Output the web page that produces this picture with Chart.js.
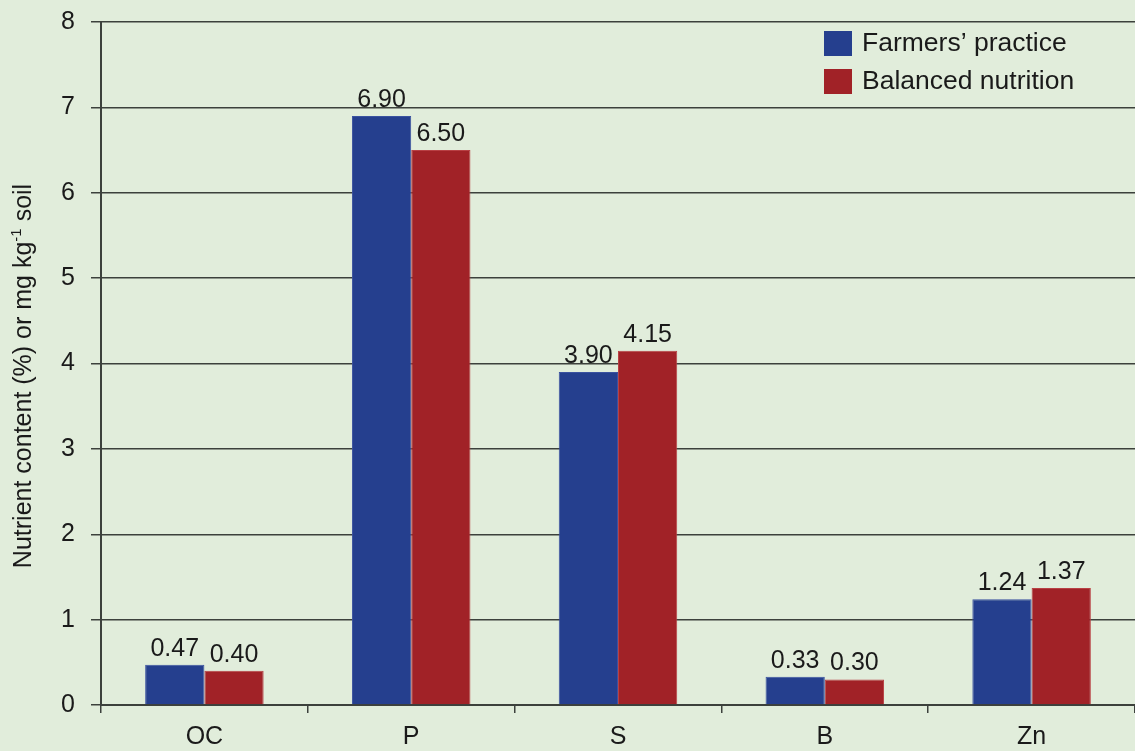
<!DOCTYPE html>
<html>
<head>
<meta charset="utf-8">
<style>
  html, body { margin: 0; padding: 0; background: #e1eddb; }
  #wrap { width: 1135px; height: 751px; position: relative; }
</style>
<script src="https://cdn.jsdelivr.net/npm/chart.js@4.4.1/dist/chart.umd.min.js"></script>
</head>
<body>
<div id="wrap"><canvas id="chart" width="1135" height="751"></canvas></div>
<script>
// Soil nutrient content under two management practices
const nutrients = ['OC', 'P', 'S', 'B', 'Zn'];
const farmersPractice = [0.47, 6.90, 3.90, 0.33, 1.24];
const balancedNutrition = [0.40, 6.50, 4.15, 0.30, 1.37];
const seriesNames = ['Farmers\u2019 practice', 'Balanced nutrition'];
const yTicks = [0, 1, 2, 3, 4, 5, 6, 7, 8];

const FONT = '"Liberation Sans", Arial, Helvetica, sans-serif';
const BG = '#e1eddb';
const BLUE = '#253f8e';
const RED = '#a12227';
const INK = '#1a1a1a';
const LINE = '#3c413c';

// Paint the page-coloured background behind everything
const backgroundPlugin = {
  id: 'background',
  beforeDraw(chart) {
    const ctx = chart.ctx;
    ctx.save();
    ctx.fillStyle = BG;
    ctx.fillRect(0, 0, chart.width, chart.height);
    ctx.restore();
  }
};

// Value labels above each bar
const valueLabelPlugin = {
  id: 'valueLabels',
  afterDatasetsDraw(chart) {
    const ctx = chart.ctx;
    ctx.save();
    ctx.font = '25px ' + FONT;
    ctx.fillStyle = INK;
    ctx.textAlign = 'center';
    ctx.textBaseline = 'alphabetic';
    chart.data.datasets.forEach((ds, i) => {
      const meta = chart.getDatasetMeta(i);
      meta.data.forEach((bar, j) => {
        ctx.fillText(ds.data[j].toFixed(2), bar.x, bar.y - 9);
      });
    });
    ctx.restore();
  }
};

// Legend in the upper-right corner of the plot
const legendPlugin = {
  id: 'cornerLegend',
  afterDraw(chart) {
    const ctx = chart.ctx;
    ctx.save();
    ctx.font = '26.5px ' + FONT;
    ctx.textAlign = 'left';
    ctx.textBaseline = 'middle';
    chart.data.datasets.forEach((ds, i) => {
      const y = 31 + i * 38;
      ctx.fillStyle = ds.backgroundColor;
      ctx.fillRect(824, y, 28, 25);
      ctx.fillStyle = INK;
      ctx.fillText(ds.label, 862, y + 13);
    });
    ctx.restore();
  }
};

// Rotated y-axis title with a superscript exponent
const yTitlePlugin = {
  id: 'yTitle',
  afterDraw(chart) {
    const ctx = chart.ctx;
    const parts = [
      { t: 'Nutrient content (%) or mg kg', size: 25, dy: 0 },
      { t: '-1', size: 15, dy: -10 },
      { t: ' soil', size: 25, dy: 0 }
    ];
    ctx.save();
    ctx.fillStyle = INK;
    ctx.textBaseline = 'alphabetic';
    let total = 0;
    parts.forEach(p => { ctx.font = p.size + 'px ' + FONT; p.w = ctx.measureText(p.t).width; total += p.w; });
    ctx.translate(31, 376);
    ctx.rotate(-Math.PI / 2);
    let x = -total / 2;
    parts.forEach(p => {
      ctx.font = p.size + 'px ' + FONT;
      ctx.fillText(p.t, x, p.dy);
      x += p.w;
    });
    ctx.restore();
  }
};

new Chart(document.getElementById('chart'), {
  type: 'bar',
  data: {
    labels: nutrients,
    datasets: [
      { label: seriesNames[0], data: farmersPractice, backgroundColor: BLUE, borderColor: '#3a52a0', borderWidth: 1 },
      { label: seriesNames[1], data: balancedNutrition, backgroundColor: RED, borderColor: '#b84044', borderWidth: 1 }
    ]
  },
  plugins: [backgroundPlugin, valueLabelPlugin, legendPlugin, yTitlePlugin],
  options: {
    responsive: false,
    animation: false,
    devicePixelRatio: 1,
    layout: { padding: { top: 22, right: 0, bottom: 0, left: 0 } },
    plugins: { legend: { display: false }, tooltip: { enabled: false } },
    datasets: { bar: { categoryPercentage: 0.573, barPercentage: 1.0 } },
    scales: {
      x: {
        offset: true,
        grid: { offset: true, drawOnChartArea: false, drawTicks: true, tickLength: 8, color: LINE, lineWidth: 1.5 },
        border: { display: true, color: LINE, width: 2 },
        ticks: { color: INK, font: { family: FONT, size: 25 }, padding: 9, maxRotation: 0 },
        afterFit(scale) { scale.height = 46; scale.paddingLeft = 0; scale.paddingRight = 0; }
      },
      y: {
        min: yTicks[0],
        max: yTicks[yTicks.length - 1],
        afterBuildTicks(scale) { scale.ticks = yTicks.map(v => ({ value: v })); },
        grid: { color: LINE, lineWidth: 1.5, drawTicks: true, tickLength: 10 },
        border: { display: true, color: LINE, width: 2 },
        ticks: { color: INK, font: { family: FONT, size: 25 }, padding: 16 },
        afterFit(scale) { scale.width = 101; scale.paddingTop = 0; scale.paddingBottom = 0; }
      }
    }
  }
});
</script>
</body>
</html>
